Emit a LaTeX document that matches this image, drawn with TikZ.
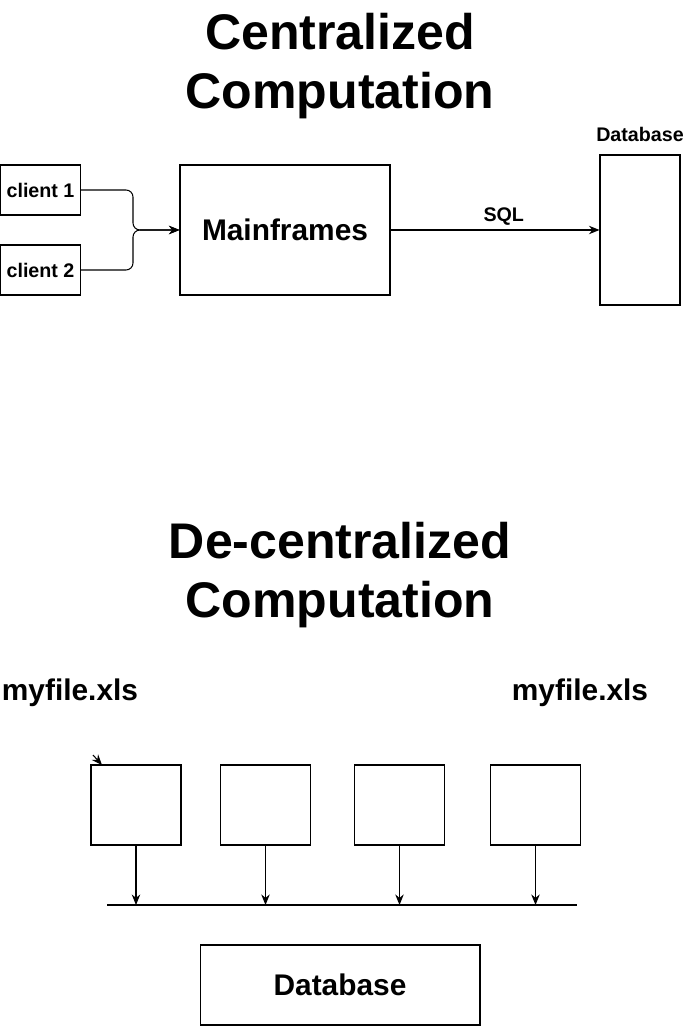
\documentclass[tikz,border=0pt]{standalone}
\usepackage{fontspec}
\setmainfont{Liberation Sans}
\usetikzlibrary{arrows.meta,positioning}

\begin{document}
\begin{tikzpicture}[x=0.02cm, y=-0.02cm,
    box/.style={draw, line width=0.6pt, inner sep=0pt},
    conn/.style={line width=0.6pt, -{Stealth[length=6pt,width=4.8pt]}},
    bigtitle/.style={font=\fontsize{28.5}{34}\selectfont\bfseries, align=center},
    small/.style={font=\fontsize{11.2}{13}\selectfont\bfseries},
    medium/.style={font=\fontsize{17}{20}\selectfont\bfseries}]
    \useasboundingbox (0,0) rectangle (686,1026);

    % Centralized part
    \node[bigtitle] (title1) at (340,66) {Centralized\\Computation};

    \node[box, small, minimum width=1.6cm, minimum height=1cm] (client1) at (40.5,190) {client 1};
    \node[box, small, minimum width=1.6cm, minimum height=1cm] (client2) at (40.5,270) {client 2};
    \node[box, medium, minimum width=4.2cm, minimum height=2.6cm] (mainframe) at (285,230) {Mainframes};
    \node[box, minimum width=1.6cm, minimum height=3cm] (db1) at (640,230) {};
    \node[small, above=4pt of db1] (db1label) {Database};

    \coordinate (join) at (133,230);
    \draw[conn, rounded corners=4pt] (client1.east) -| (join) -- (mainframe.west);
    \draw[conn, rounded corners=4pt] (client2.east) -| (join) -- (mainframe.west);
    \draw[conn] (mainframe.east) -- node[small, above=-1pt, xshift=5pt] (sql) {SQL} (db1.west);

    % De-centralized part
    \node[bigtitle] (title2) at (340,575) {De-centralized\\Computation};

    \node[medium] (file1) at (70,693) {myfile.xls};
    \node[medium] (file2) at (580,693) {myfile.xls};

    \foreach \i/\x in {1/136, 2/265.5, 3/399.5, 4/535.5}
        \node[box, minimum width=1.8cm, minimum height=1.6cm] (pc\i) at (\x,805) {};

    \coordinate (busl) at (107,905);
    \coordinate (busr) at (577,905);
    \draw[line width=0.6pt] (busl) -- (busr);
    \foreach \i in {1,...,4}
        \draw[conn] (pc\i.south) -- (pc\i.south |- busl);

    \coordinate (tickstart) at (93,755);
    \coordinate (tickend) at (102,765);
    \draw[conn] (tickstart) -- (tickend);

    \node[box, medium, minimum width=5.6cm, minimum height=1.6cm] (db2) at (340,985) {Database};
\end{tikzpicture}
\end{document}
